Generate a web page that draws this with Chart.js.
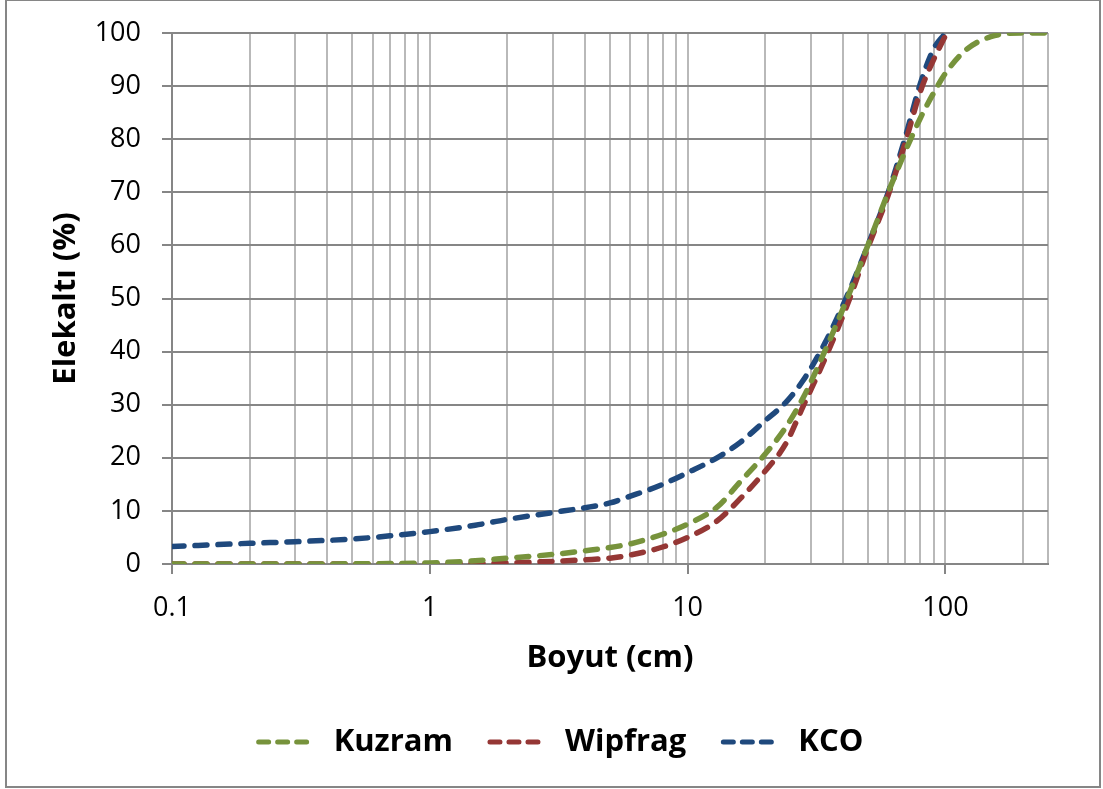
<!DOCTYPE html>
<html>
<head>
<meta charset="utf-8">
<title>Elekaltı - Boyut</title>
<script src="https://cdn.jsdelivr.net/npm/chart.js@4.4.1/dist/chart.umd.min.js"></script>
<style>
  html, body { margin: 0; padding: 0; background: #fff; }
  #frame { position: absolute; left: 5px; top: -1px; width: 1092px; height: 785px; border: 2px solid #868686; }
  canvas { display: block; }
</style>
</head>
<body>
<div id="frame"><canvas id="chart" width="1092" height="785"></canvas></div>
<script>
// particle size (cm) and cumulative passing (%) for each model
const sizes = [0.1, 0.2, 0.3, 0.5, 0.7, 1, 1.5, 2, 3, 4, 5, 6, 7, 8, 10, 13, 16, 20, 24, 28, 34, 42, 50, 60, 70, 80, 90, 100, 120, 150, 200, 250];
const kuzram = [0, 0, 0.01, 0.03, 0.08, 0.2, 0.6, 1.1, 1.8, 2.5, 3.1, 3.8, 4.7, 5.6, 7.5, 10.7, 15.5, 20.7, 25.7, 31.2, 40, 50.5, 60, 70, 77.8, 84, 88.7, 92.4, 96.8, 99.3, 100, 100];
const wipfrag = [0, 0, 0, 0, 0, 0.05, 0.1, 0.2, 0.5, 0.8, 1.1, 1.7, 2.4, 3.2, 5, 8.1, 12.3, 17.5, 22.6, 29.6, 38.5, 49.3, 59.5, 69.5, 79.5, 89, 95, 99.5, null, null, null, null];
const kco = [3.3, 3.9, 4.2, 4.7, 5.3, 6.1, 7.3, 8.4, 9.7, 10.6, 11.5, 12.8, 13.9, 15, 17.2, 20, 22.9, 27, 30.4, 34.5, 41.5, 51, 60, 70, 80.5, 90.5, 97, 100, null, null, null, null];

const xTicks = [0.1, 0.2, 0.3, 0.4, 0.5, 0.6, 0.7, 0.8, 0.9, 1, 2, 3, 4, 5, 6, 7, 8, 9, 10, 20, 30, 40, 50, 60, 70, 80, 90, 100, 200, 250];
const xLabels = [0.1, 1, 10, 100];
const yTicks = [0, 10, 20, 30, 40, 50, 60, 70, 80, 90, 100];

const FONT = "'Open Sans', 'DejaVu Sans', sans-serif";
const axisGray = '#868686';

function series(label, values, color) {
  return {
    label: label,
    data: sizes.map((s, i) => ({ x: s, y: values[i] })),
    borderColor: color,
    backgroundColor: color,
    borderWidth: 5.5,
    borderDash: [12, 11],
    borderCapStyle: 'round',
    pointRadius: 0,
    cubicInterpolationMode: 'monotone',
    fill: false
  };
}

const isLabelled = v => xLabels.some(l => Math.abs(l - v) < 1e-9);

Chart.defaults.color = '#000';
Chart.defaults.font.family = FONT;

new Chart(document.getElementById('chart'), {
  type: 'line',
  data: {
    datasets: [
      series('Kuzram', kuzram, '#77933C'),
      series('Wipfrag', wipfrag, '#953735'),
      series('KCO', kco, '#1F497D')
    ]
  },
  options: {
    responsive: false,
    animation: false,
    layout: { padding: { left: 7, right: 18, top: 32, bottom: 18.5 } },
    plugins: {
      tooltip: { enabled: false },
      legend: {
        position: 'bottom',
        labels: {
          font: { size: 31, weight: 'bold', family: FONT },
          usePointStyle: true,
          pointStyleWidth: 86.5,
          padding: 10,
          color: '#000',
          generateLabels(chart) {
            const items = Chart.defaults.plugins.legend.labels.generateLabels(chart);
            items.forEach(it => {
              it.pointStyle = 'line';
              it.lineWidth = 5;
              it.lineCap = 'round';
              it.lineDash = [10, 9, 10, 9, 10, 200];
              it.lineDashOffset = 221;
            });
            return items;
          }
        }
      }
    },
    scales: {
      x: {
        type: 'logarithmic',
        min: 0.1,
        max: 250,
        afterBuildTicks(scale) {
          scale.ticks = xTicks.map(v => ({ value: v }));
        },
        afterFit(scale) { scale.height = 152.5; },
        ticks: {
          autoSkip: false,
          maxRotation: 0,
          padding: 18,
          font: { size: 27 },
          callback: v => (isLabelled(v) ? String(v) : '')
        },
        grid: {
          color: '#b9b9b9',
          lineWidth: 2,
          tickLength: 10,
          tickColor: ctx => (ctx.tick && isLabelled(ctx.tick.value) ? axisGray : 'rgba(0,0,0,0)'),
          tickWidth: 2
        },
        border: { display: true, color: axisGray, width: 2 },
        title: {
          display: true,
          text: 'Boyut (cm)',
          font: { size: 31, weight: 'bold' },
          padding: { top: 0, bottom: 40 }
        }
      },
      y: {
        min: 0,
        max: 100,
        afterBuildTicks(scale) {
          scale.ticks = yTicks.map(v => ({ value: v }));
        },
        afterFit(scale) {
          scale.width = 158;
          // the layout padding already leaves room for the end labels
          scale.paddingTop = 0;
          scale.paddingBottom = 0;
        },
        ticks: { padding: 21, font: { size: 27 } },
        grid: { color: axisGray, lineWidth: 2, tickLength: 10 },
        border: { display: true, color: axisGray, width: 2 },
        title: {
          display: true,
          text: 'Elekaltı (%)',
          font: { size: 31, weight: 'bold' },
          padding: { top: 34, bottom: 0 }
        }
      },
      yRight: {
        position: 'right',
        display: true,
        grid: { display: false },
        border: { display: false },
        ticks: { display: false },
        afterFit(scale) { scale.width = 33; }
      }
    }
  }
});
</script>
</body>
</html>
